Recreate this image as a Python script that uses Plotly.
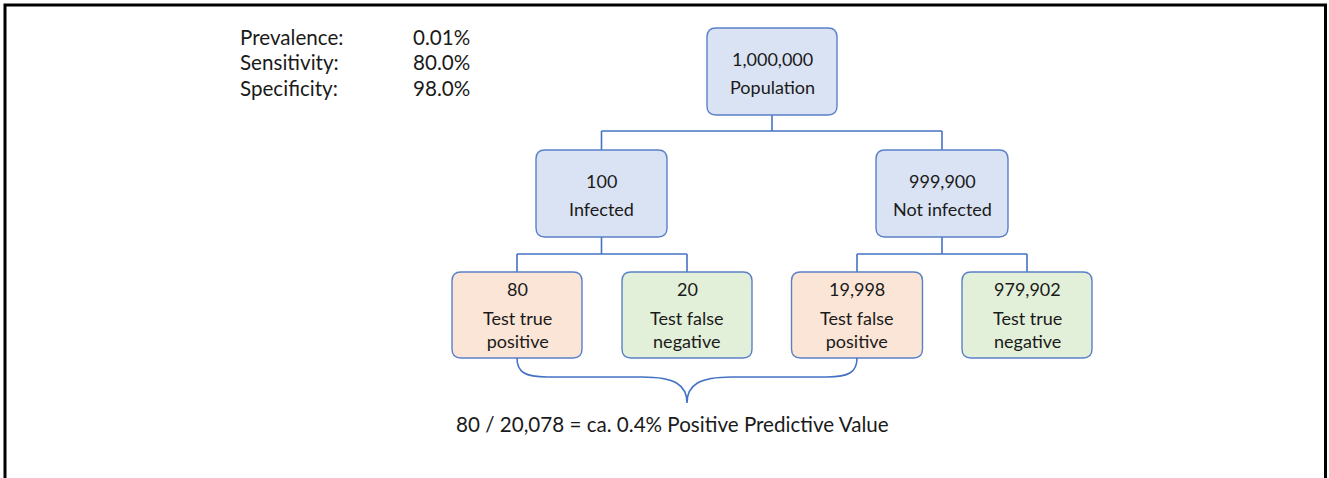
import plotly.graph_objects as go

# ---- data ----
param_labels = ["Prevalence:", "Sensitivity:", "Specificity:"]
param_values = ["0.01%", "80.0%", "98.0%"]

node_counts = [1000000, 100, 999900, 80, 20, 19998, 979902]
node_labels = ["Population", "Infected", "Not infected",
               "Test true<br>positive", "Test false<br>negative",
               "Test false<br>positive", "Test true<br>negative"]
node_kinds = ["group", "group", "group", "pos", "neg", "pos", "neg"]
ppv_text = "80 / 20,078 = ca. 0.4% Positive Predictive Value"

# ---- layout constants ----
W, H = 1329, 478
FONT = "Lato"
LINE = "#4472c4"
FILL = {"group": "#dae3f3", "pos": "#fbe5d6", "neg": "#e2f0d9"}
EDGE = "#5a80c8"
TXT = "#1a1a1a"

# box geometry: (cx, top, width, height)
boxes = [
    (772, 28, 130, 87),
    (601.5, 150, 131, 87),
    (942, 150, 132, 87),
    (517, 272, 130, 86),
    (687, 272, 130, 86),
    (857, 272, 131, 86),
    (1027, 272, 130, 86),
]


def rrect(x0, y0, x1, y1, r=9):
    return (f"M {x0+r} {y0} L {x1-r} {y0} Q {x1} {y0} {x1} {y0+r} "
            f"L {x1} {y1-r} Q {x1} {y1} {x1-r} {y1} L {x0+r} {y1} "
            f"Q {x0} {y1} {x0} {y1-r} L {x0} {y0+r} Q {x0} {y0} {x0+r} {y0} Z")


shapes = []
annotations = []


def seg(x0, y0, x1, y1):
    shapes.append(dict(type="line", xref="x", yref="y", x0=x0, y0=y0, x1=x1, y1=y1,
                       line=dict(color=LINE, width=1.6), layer="below"))


# level 1 -> level 2
seg(772, 115, 772, 131)
seg(601.5, 131, 942, 131)
seg(601.5, 131, 601.5, 150)
seg(942, 131, 942, 150)
# level 2 -> level 3
for parent, (a, b) in [(601.5, (517, 687)), (942, (857, 1027))]:
    seg(parent, 237, parent, 254)
    seg(a, 254, b, 254)
    seg(a, 254, a, 272)
    seg(b, 254, b, 272)

# boxes
for (cx, top, w, h), kind, cnt, lab in zip(boxes, node_kinds, node_counts, node_labels):
    x0, x1 = cx - w / 2, cx + w / 2
    shapes.append(dict(type="path", xref="x", yref="y", path=rrect(x0, top, x1, top + h),
                       fillcolor=FILL[kind], line=dict(color=EDGE, width=1.4)))
    if "<br>" in lab:
        ny, ly = top + 17, top + 57
    else:
        ny, ly = top + 31, top + 59
    annotations.append(dict(x=cx, y=ny, xref="x", yref="y", text=f"{cnt:,}", showarrow=False,
                            font=dict(family=FONT, size=18, color=TXT), xanchor="center", yanchor="middle"))
    annotations.append(dict(x=cx, y=ly, xref="x", yref="y", text=lab, showarrow=False,
                            font=dict(family=FONT, size=18, color=TXT), xanchor="center", yanchor="middle"))

# brace under positives
bl, br, bm = 517, 857, 687
brace = (f"M {bl} 358 C {bl} 372 {bl+8} 377 {bl+30} 377 "
         f"L {bm-45} 377 C {bm-12} 377 {bm} 385 {bm} 403 "
         f"C {bm} 385 {bm+12} 377 {bm+45} 377 "
         f"L {br-30} 377 C {br-8} 377 {br} 372 {br} 358")
shapes.append(dict(type="path", xref="x", yref="y", path=brace,
                   line=dict(color=LINE, width=1.6)))

annotations.append(dict(x=672, y=424, xref="x", yref="y", text=ppv_text, showarrow=False,
                        font=dict(family=FONT, size=20.6, color=TXT), xanchor="center", yanchor="middle"))

# parameter table
for i, (lab, val) in enumerate(zip(param_labels, param_values)):
    y = 37 + i * 25.3
    annotations.append(dict(x=238, y=y, xref="x", yref="y", text=lab, showarrow=False,
                            font=dict(family=FONT, size=20.6, color=TXT), xanchor="left", yanchor="middle"))
    annotations.append(dict(x=411, y=y, xref="x", yref="y", text=val, showarrow=False,
                            font=dict(family=FONT, size=20.6, color=TXT), xanchor="left", yanchor="middle"))

# outer frame
shapes.append(dict(type="rect", xref="x", yref="y", x0=5, y0=5, x1=1325.5, y1=495,
                   line=dict(color="black", width=3), fillcolor="rgba(0,0,0,0)"))

fig = go.Figure()
fig.add_trace(go.Scatter(x=[0, W], y=[0, H], mode="markers", marker=dict(opacity=0),
                         hoverinfo="skip", showlegend=False))
fig.update_layout(
    width=W, height=H, margin=dict(l=0, r=0, t=0, b=0),
    paper_bgcolor="white", plot_bgcolor="white",
    xaxis=dict(range=[0, W], visible=False, fixedrange=True),
    yaxis=dict(range=[H, 0], visible=False, fixedrange=True),
    shapes=shapes, annotations=annotations, showlegend=False,
)
fig.write_html("out.html", config={"displayModeBar": False},
               post_script="document.body.style.margin='0';document.body.style.overflow='hidden';")
